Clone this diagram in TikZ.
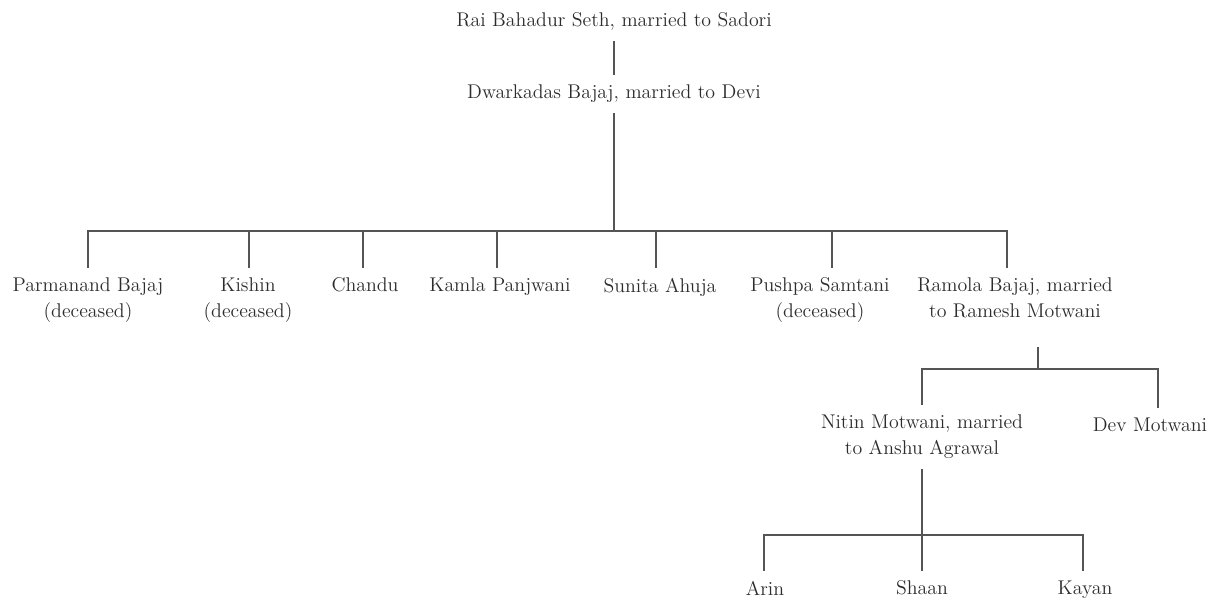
\documentclass[tikz,border=0pt]{standalone}
\usepackage{tikz}
\usepackage{xcolor}
\usetikzlibrary{positioning}
\usetikzlibrary{calc}
\usetikzlibrary{math}

\definecolor{inkgray}{HTML}{2C2C2C}
\definecolor{linegray}{HTML}{555555}

\begin{document}
\begin{tikzpicture}[x=0.02cm,y=-0.02cm,
    person/.style={anchor=north, align=center, text=inkgray, inner xsep=0pt,
      inner ysep=6pt, font=\fontsize{11.3}{14.8}\selectfont},
    link/.style={draw=linegray, line width=1.1pt, line cap=rect}]

  \tikzmath{
    \ytop   = 2;    % top of the first couple
    \ysec   = 74;   % top of the second couple
    \busa   = 231;  % bus line over the children
    \ykid   = 267;  % top of the children
    \busb   = 369;  % bus line over the grandchildren
    \ygrand = 404;  % top of the grandchildren
    \busc   = 535;  % bus line over the great-grandchildren
    \ygreat = 570;  % top of the great-grandchildren
  }

  \useasboundingbox (0,0) rectangle (1225,603);

  % first two generations
  \node[person] (rai) at (614, \ytop) {Rai Bahadur Seth, married to Sadori};
  \node[person] (dwarkadas) at (614, \ysec) {Dwarkadas Bajaj, married to Devi};
  \draw[link] (rai.south) -- (dwarkadas.north);

  % children of Dwarkadas
  \node[person] (parmanand) at (88, \ykid) {Parmanand Bajaj\\(deceased)};
  \node[person] (kishin) at (248, \ykid) {Kishin\\(deceased)};
  \node[person] (chandu) at (365, \ykid) {Chandu};
  \node[person] (kamla) at (500, \ykid) {Kamla Panjwani};
  \node[person] (sunita) at (660, \ykid) {Sunita Ahuja};
  \node[person] (pushpa) at (820, \ykid) {Pushpa Samtani\\(deceased)};
  \node[person] (ramola) at (1015, \ykid) {Ramola Bajaj, married\\to Ramesh Motwani};

  \foreach \name/\x in {parmanand/88, kishin/249, chandu/363, kamla/497,
                        sunita/656, pushpa/832, ramola/1007} {
    \coordinate (bus-\name) at (\x, \busa);
    \draw[link] (bus-\name) -- (bus-\name |- \name.north);
  }
  \draw[link] (bus-parmanand) -- (bus-ramola);
  \draw[link] (dwarkadas.south) -- (dwarkadas.south |- bus-parmanand);

  % children of Ramola
  \node[person] (nitin) at (922, \ygrand) {Nitin Motwani, married\\to Anshu Agrawal};
  \node[person] (dev) at (1150, {\ygrand+3}) {Dev Motwani};

  \coordinate (ramola-stem) at (1038, \busb);
  \coordinate (bus-nitin) at (922, \busb);
  \coordinate (bus-dev) at (1158, \busb);
  \draw[link, shorten <=11pt] (ramola.south -| ramola-stem) -- (ramola-stem);
  \draw[link] (bus-nitin) -- (bus-dev);
  \draw[link] (bus-nitin) -- (nitin.north);
  \draw[link] (bus-dev) -- (bus-dev |- dev.north);

  % children of Nitin
  \node[person] (arin) at (765, \ygreat) {Arin};
  \node[person] (shaan) at (922, \ygreat) {Shaan};
  \node[person] (kayan) at (1085, \ygreat) {Kayan};

  \coordinate (bus-arin) at (764, \busc);
  \coordinate (bus-kayan) at (1083, \busc);
  \draw[link] (nitin.south) -- (shaan.north);
  \draw[link] (bus-arin) -- (bus-kayan);
  \draw[link] (bus-arin) -- (bus-arin |- arin.north);
  \draw[link] (bus-kayan) -- (bus-kayan |- kayan.north);

\end{tikzpicture}
\end{document}
